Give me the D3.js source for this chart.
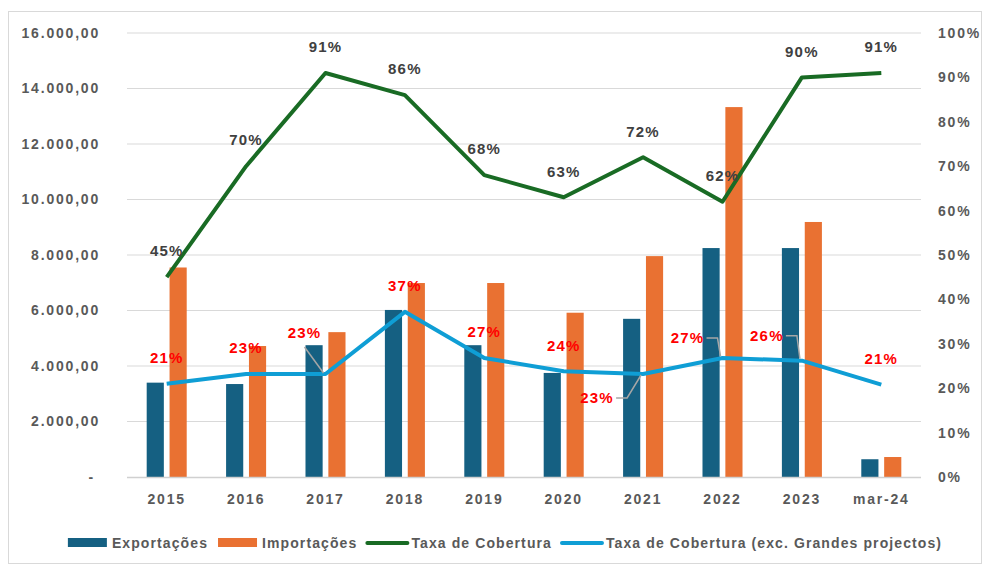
<html>
  <head>
    <script src="https://cdnjs.cloudflare.com/ajax/libs/d3/7.8.5/d3.min.js"></script>
    <style>
    body { margin: 0; background: white; }
    text { font-family: "Liberation Sans", Arial, sans-serif; font-weight: bold; }
    .tick text { fill: #595959; font-size: 14px; letter-spacing: 1.8px; }
    .grid line { stroke: #d9d9d9; }
    </style>
  </head>
  <body>
    <svg width="983" height="566" id="chart"></svg>
    <script>
    var categories = ['2015', '2016', '2017', '2018', '2019', '2020', '2021', '2022', '2023', 'mar-24'];
    var exportacoes = [3400, 3350, 4750, 6020, 4750, 3750, 5700, 8250, 8250, 640];
    var importacoes = [7550, 4720, 5220, 6990, 6990, 5920, 7960, 13330, 9190, 720];
    var taxa = [0.45, 0.70, 0.91, 0.86, 0.68, 0.63, 0.72, 0.62, 0.90, 0.91];
    var taxaExc = [0.21, 0.232, 0.232, 0.372, 0.268, 0.238, 0.232, 0.268, 0.262, 0.208];
    var leftTicks = [0, 2000, 4000, 6000, 8000, 10000, 12000, 14000, 16000];
    var rightTicks = [0, 0.1, 0.2, 0.3, 0.4, 0.5, 0.6, 0.7, 0.8, 0.9, 1];
    // label nudges for the crowded blue-line labels (dx, dy from the point)
    var redShift = {2: [-21, -41], 6: [-46, 24], 7: [-35, -20], 8: [-35, -25]};

    var svg = d3.select('#chart');
    var plotLeft = 127, plotRight = 921, plotTop = 33, plotBottom = 477;

    svg.append('rect')
      .attr('x', 8.5).attr('y', 11.5)
      .attr('width', 973).attr('height', 552)
      .attr('fill', 'white').attr('stroke', '#d9d9d9');

    var x0 = d3.scaleBand().domain(categories).range([plotLeft, plotRight])
      .paddingInner(0.496).paddingOuter(0.248);
    var x1 = d3.scaleBand().domain(['exp', 'imp']).range([0, x0.bandwidth()]).paddingInner(0.25);
    var y = d3.scaleLinear().domain([0, 16000]).range([plotBottom, plotTop]);
    var y2 = d3.scaleLinear().domain([0, 1]).range([plotBottom, plotTop]);

    var fmtNum = function(v) {
      if (v === 0) return '-';
      return d3.format(',.2f')(v).replace(/,/g, 'X').replace('.', ',').replace(/X/g, '.');
    };
    var pct = d3.format('.0%');

    // grid
    svg.append('g').attr('class', 'grid')
      .selectAll('line').data(leftTicks.slice(1)).enter().append('line')
      .attr('x1', plotLeft).attr('x2', plotRight)
      .attr('y1', function(d) { return y(d); }).attr('y2', function(d) { return y(d); });

    var yAxis = svg.append('g')
      .attr('transform', 'translate(' + 103 + ',0)')
      .call(d3.axisLeft(y).tickValues(leftTicks).tickFormat(fmtNum).tickSize(0));
    yAxis.select('.domain').remove();
    yAxis.selectAll('.tick').filter(function(d) { return d === 0; }).select('text').attr('dx', -5);

    var yAxis2 = svg.append('g')
      .attr('transform', 'translate(' + 938 + ',0)')
      .call(d3.axisRight(y2).tickValues(rightTicks).tickFormat(pct).tickSize(0));
    yAxis2.select('.domain').remove();
    yAxis2.selectAll('text').attr('x', 0);

    // bars
    var groups = svg.append('g').selectAll('g').data(categories).enter().append('g')
      .attr('transform', function(d) { return 'translate(' + x0(d) + ',0)'; });
    groups.append('rect')
      .attr('x', x1('exp')).attr('width', x1.bandwidth())
      .attr('y', function(d, i) { return y(exportacoes[i]); })
      .attr('height', function(d, i) { return plotBottom - y(exportacoes[i]); })
      .attr('fill', '#156082');
    groups.append('rect')
      .attr('x', x1('imp')).attr('width', x1.bandwidth())
      .attr('y', function(d, i) { return y(importacoes[i]); })
      .attr('height', function(d, i) { return plotBottom - y(importacoes[i]); })
      .attr('fill', '#E97132');

    // x axis
    svg.append('line')
      .attr('x1', plotLeft).attr('x2', plotRight).attr('y1', plotBottom + 0.5).attr('y2', plotBottom + 0.5)
      .attr('stroke', '#d0d0d0').attr('stroke-width', 1.5);
    var xAxis = svg.append('g')
      .attr('transform', 'translate(0,' + (plotBottom + 14) + ')')
      .call(d3.axisBottom(x0).tickSize(0));
    xAxis.select('.domain').remove();
    xAxis.selectAll('text').attr('fill', '#404040');

    var cx = function(i) { return x0(categories[i]) + x0.bandwidth() / 2; };

    var line = d3.line()
      .x(function(d, i) { return cx(i); })
      .y(function(d) { return y2(d); });

    svg.append('path').datum(taxa)
      .attr('d', line).attr('fill', 'none')
      .attr('stroke', '#196B24').attr('stroke-width', 4).attr('stroke-linejoin', 'round');
    svg.append('path').datum(taxaExc)
      .attr('d', line).attr('fill', 'none')
      .attr('stroke', '#0F9ED5').attr('stroke-width', 4).attr('stroke-linejoin', 'round');

    // green labels
    svg.append('g').selectAll('text').data(taxa).enter().append('text')
      .attr('x', function(d, i) { return cx(i); })
      .attr('y', function(d) { return y2(d) - 26; })
      .attr('dy', '0.35em')
      .attr('text-anchor', 'middle')
      .style('font-size', '15px').style('letter-spacing', '1.2px')
      .attr('fill', '#404040')
      .text(pct);

    // leader lines for the nudged blue labels
    var leaders = svg.append('g');
    taxaExc.forEach(function(d, i) {
      var s = redShift[i];
      if (!s) return;
      var px = cx(i), py = y2(d);
      var lx = px + s[0], ly = py + s[1];
      var pts;
      if (s[1] < -30) {
        pts = [[lx, ly + 14], [px - 2, py - 1]];
      } else {
        pts = [[lx + 19, ly], [lx + 30, ly], [px - 2, py + (s[1] > 0 ? 1 : -2)]];
      }
      leaders.append('path')
        .attr('d', d3.line()(pts))
        .attr('fill', 'none').attr('stroke', '#a6a6a6').attr('stroke-width', 1.5);
    });

    svg.append('g').selectAll('text').data(taxaExc).enter().append('text')
      .attr('x', function(d, i) { return cx(i) + (redShift[i] ? redShift[i][0] : 0); })
      .attr('y', function(d, i) { return y2(d) + (redShift[i] ? redShift[i][1] : -26); })
      .attr('dy', '0.35em')
      .attr('text-anchor', 'middle')
      .style('font-size', '15px').style('letter-spacing', '1.2px')
      .attr('fill', '#FF0000')
      .text(pct);

    // legend
    var legendItems = [
      {name: 'Exportações', color: '#156082', type: 'rect'},
      {name: 'Importações', color: '#E97132', type: 'rect'},
      {name: 'Taxa de Cobertura', color: '#196B24', type: 'line'},
      {name: 'Taxa de Cobertura (exc. Grandes projectos)', color: '#0F9ED5', type: 'line'}
    ];
    var legend = svg.append('g');
    var legendX = 0;
    legendItems.forEach(function(item) {
      var g = legend.append('g').attr('transform', 'translate(' + legendX + ',0)');
      if (item.type === 'rect') {
        g.append('rect').attr('x', 0).attr('y', -5).attr('width', 39).attr('height', 9).attr('fill', item.color);
      } else {
        g.append('line').attr('x1', 0).attr('x2', 40).attr('y1', 0).attr('y2', 0)
          .attr('stroke', item.color).attr('stroke-width', 4).attr('stroke-linecap', 'round');
      }
      var t = g.append('text').attr('x', 44).attr('dy', '0.35em')
        .style('font-size', '14px').style('letter-spacing', '1.1px')
        .attr('fill', '#595959').text(item.name);
      legendX += 44 + t.node().getComputedTextLength() + 10;
    });
    var lw = legendX - 10;
    legend.attr('transform', 'translate(' + (505 - lw / 2) + ',543)');
    </script>
  </body>
</html>
